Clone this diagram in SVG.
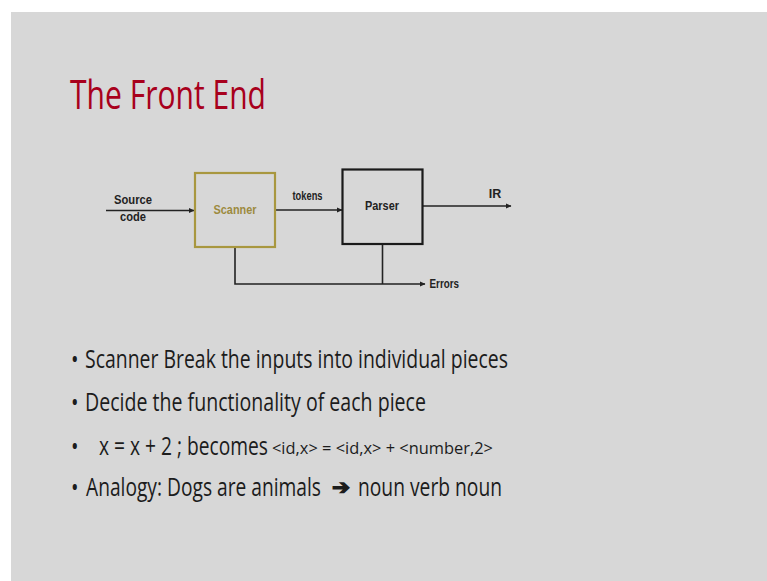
<svg xmlns="http://www.w3.org/2000/svg" width="767" height="581" viewBox="0 0 767 581">
<defs>
<marker id="ah" markerWidth="6" markerHeight="6" refX="5" refY="3" orient="auto" markerUnits="userSpaceOnUse">
<path d="M0,0.5 L5.5,3 L0,5.5 Z" fill="#222"/>
</marker>
</defs>
<style>
.lbl{font-family:"Liberation Sans",Arial,sans-serif;font-weight:bold;font-size:12.5px;fill:#222}
.bul{font-family:"Open Sans","Noto Sans",sans-serif;font-size:25px;fill:#1c1c1c}
.sm{font-family:"Open Sans","Noto Sans",sans-serif;font-size:16px;fill:#1c1c1c}
.conn{stroke:#222;stroke-width:1.6;fill:none}
</style>
<rect x="0" y="0" width="767" height="581" fill="#ffffff"/>
<rect x="11" y="12" width="756" height="569" fill="#d7d7d7"/>
<text x="70" y="109" font-family="Open Sans,Noto Sans,sans-serif" font-size="40" fill="#a8001c" textLength="196" lengthAdjust="spacingAndGlyphs">The Front End</text>
<g id="connectors">
<line class="conn" x1="106" y1="210.5" x2="194" y2="210.5" marker-end="url(#ah)"/>
<line class="conn" x1="276" y1="210" x2="342" y2="210" marker-end="url(#ah)"/>
<line class="conn" x1="423" y1="206" x2="511" y2="206" marker-end="url(#ah)"/>
<polyline class="conn" points="235,248 235,284 425,284" marker-end="url(#ah)"/>
<line class="conn" x1="382.5" y1="245" x2="382.5" y2="284"/>
</g>
<g id="source">
<text class="lbl" x="133" y="204" text-anchor="middle" textLength="38" lengthAdjust="spacingAndGlyphs">Source</text>
<text class="lbl" x="133" y="221" text-anchor="middle" textLength="26" lengthAdjust="spacingAndGlyphs">code</text>
</g>
<g id="scanner">
<rect x="195" y="173" width="80" height="74" fill="none" stroke="#a8973f" stroke-width="2.2"/>
<text class="lbl" x="235" y="213.5" text-anchor="middle" style="fill:#9c8a3e" textLength="43" lengthAdjust="spacingAndGlyphs">Scanner</text>
</g>
<g id="tokens">
<text class="lbl" x="307.5" y="199.5" text-anchor="middle" textLength="30" lengthAdjust="spacingAndGlyphs">tokens</text>
</g>
<g id="parser">
<rect x="342.5" y="169.5" width="80" height="74.5" fill="none" stroke="#1a1a1a" stroke-width="2.2"/>
<text class="lbl" x="382" y="210" text-anchor="middle" textLength="34" lengthAdjust="spacingAndGlyphs">Parser</text>
</g>
<g id="ir">
<text class="lbl" x="495" y="197.5" text-anchor="middle">IR</text>
</g>
<g id="errors">
<text class="lbl" x="429.5" y="287.5" textLength="29.5" lengthAdjust="spacingAndGlyphs">Errors</text>
</g>
<g id="bullets">
<g transform="scale(0.8,1)">
<text class="bul" y="368"><tspan x="88.75">•</tspan><tspan x="106.25" textLength="528.75" lengthAdjust="spacingAndGlyphs">Scanner Break the inputs into individual pieces</tspan></text>
<text class="bul" y="411"><tspan x="88.75">•</tspan><tspan x="106.25" textLength="426.25" lengthAdjust="spacingAndGlyphs">Decide the functionality of each piece</tspan></text>
<text class="bul" y="455"><tspan x="88.75">•</tspan><tspan x="123.75" textLength="211.25" lengthAdjust="spacingAndGlyphs">x = x + 2 ; becomes</tspan></text>
<text class="sm" x="340" y="454" textLength="276.25" lengthAdjust="spacingAndGlyphs">&lt;id,x&gt; = &lt;id,x&gt; + &lt;number,2&gt;</text>
<text class="bul" y="496.5"><tspan x="88.75">•</tspan><tspan x="107.5" textLength="293.75" lengthAdjust="spacingAndGlyphs">Analogy: Dogs are animals</tspan></text>
<text class="bul" x="447.5" y="496.5" textLength="180" lengthAdjust="spacingAndGlyphs">noun verb noun</text>
</g>
<text x="332" y="494" font-family="DejaVu Sans,sans-serif" font-size="20" font-weight="bold" fill="#1c1c1c" stroke="#1c1c1c" stroke-width="1.3" textLength="18" lengthAdjust="spacingAndGlyphs">➔</text>
</g>
</svg>
